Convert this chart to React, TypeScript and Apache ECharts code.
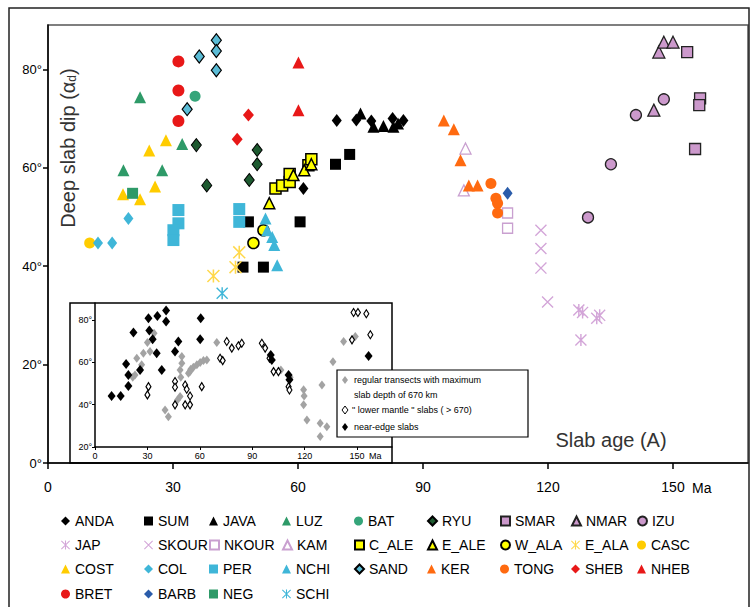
import React, { useEffect, useRef } from "react";
import * as echarts from "echarts";

const FONT = "'Liberation Sans', Arial, sans-serif";

// ---- main chart data: [slab age (Ma), deep slab dip (deg)] ----
const ANDA = [[69.3, 69.6], [74, 69.7], [77.6, 69.5], [82.7, 70], [85.3, 69.6], [61.3, 55.8]];
const SUM = [[72.4, 62.7], [69, 60.7], [60.5, 49], [48.1, 49], [46.8, 39.8], [51.7, 39.8]];
const JAVA = [[75, 71], [78.1, 68.3], [80.5, 68.5], [82.9, 68.3], [84, 69]];
const LUZ = [[22.1, 74.3], [32.2, 64.8], [18.1, 59.5], [27.4, 59.5]];
const BAT = [[35.3, 74.5]];
const RYU = [[35.6, 64.6], [38.1, 56.4], [50.2, 63.6], [50.2, 60.7], [48.3, 57.5]];
const SMAR = [[153.4, 83.5], [156.5, 74.1], [156.3, 72.7], [155.3, 63.8]];
const NMAR = [[145.4, 71.7], [146.6, 83.5], [147.8, 85.5], [150, 85.5]];
const IZU = [[129.6, 49.9], [135.1, 60.7], [141.1, 70.7], [147.8, 73.9]];
const JAP = [[127.4, 31.1], [128.3, 30.6], [131.7, 29.4], [132.4, 30], [127.9, 25]];
const SKOUR = [[118.3, 47.3], [118.3, 43.6], [118.3, 39.6], [119.9, 32.7]];
const NKOUR = [[110.3, 50.8], [110.3, 47.7]];
const KAM = [[100.2, 63.9], [99.8, 55.4]];
const C_ALE = [[54.6, 55.8], [56.2, 56.4], [58, 57.1], [58, 58.7], [62.5, 60.5], [63.2, 61.7]];
const E_ALE = [[53.1, 52.8], [58.9, 58.5], [61.5, 59.5], [63.2, 60.7]];
const W_ALA = [[49.3, 44.7], [51.7, 47.3]];
const E_ALA = [[45.9, 42.8], [45, 39.8], [39.7, 38]];
const CASC = [[10, 44.7]];
const COST = [[28.3, 65.6], [24.3, 63.5], [25.7, 56.2], [18, 54.6], [22.1, 53.6]];
const COL = [[19.3, 49.7], [12, 44.7], [15.4, 44.7]];
const PER = [[31.3, 51.4], [31.3, 48.7], [30.1, 47.3], [30.1, 45.3], [45.9, 51.6], [45.9, 49]];
const NCHI = [[52.2, 49.7], [52.6, 47.3], [53.8, 45.9], [54.3, 44.3], [55, 40.2]];
const SAND = [[40.4, 85.9], [40.4, 83.7], [36.3, 82.6], [40.4, 79.8], [33.4, 71.9]];
const KER = [[95, 69.6], [97.4, 67.8], [99, 61.5], [101, 56.4], [103.1, 56.4]];
const TONG = [[106.3, 56.8], [107.5, 53.8], [107.9, 52.8], [107.9, 50.8]];
const SHEB = [[45.4, 65.8], [48.1, 70.7]];
const NHEB = [[60.1, 81.4], [60.1, 71.7]];
const BRET = [[31.3, 81.6], [31.3, 75.7], [31.3, 69.5]];
const BARB = [[110.3, 54.8]];
const NEG = [[20.3, 54.8]];
const SCHI = [[41.8, 34.5]];

// ---- inset data ----
const INSET_REGULAR = [
  [23.9, 61.9], [27.7, 64.3], [26.7, 58.8], [30, 69.3], [31.5, 65.1], [33.8, 73.7], [22.9, 54], [21.6, 52.9],
  [40.1, 37.5], [42, 34.3], [49.7, 62.7], [49.7, 59.6], [48.7, 56.4], [49.1, 52.9], [53.5, 54.8], [54.8, 56.7],
  [56.3, 57.7], [58.3, 58.8], [60.2, 59.9], [62.1, 60.8], [64, 61.1], [48.7, 43.8], [47.2, 42.2], [69.7, 69.3],
  [106.4, 56.4], [111.7, 52.9], [119.4, 47], [119.7, 44.1], [119.4, 39.9], [121.3, 32.8], [128.9, 31.2],
  [132.7, 29.6], [128.9, 24.9], [129.9, 49.3], [136.2, 60.3], [142.3, 69.8], [149, 72.2], [54.4, 55.6],
];
const INSET_LOWER = [
  [30.6, 48.5], [30, 44.6], [45.8, 50.9], [45.8, 48.2], [51.6, 49.3], [52.5, 47.3], [54.4, 44.1], [45.8, 39.9],
  [51.6, 39.9], [54.4, 39.9], [61.1, 48.5], [71.6, 61.9], [73.1, 60.8], [75.4, 69.8], [78.3, 66.7], [82.1, 67.8],
  [84, 69], [95.5, 69], [97.4, 66.7], [99.9, 61.9], [102.2, 55.6], [105, 55.6], [110.8, 48.5], [111.3, 46.9],
  [148, 83.5], [150.5, 83.5], [155.3, 82.9], [147.1, 70.6], [157.6, 73],
];
const INSET_EDGE = [
  [9.5, 44.1], [14.7, 44.1], [19.1, 48.8], [19.1, 54], [17.8, 59.2], [22, 74.1], [25.8, 56.4], [30.6, 80.8],
  [31.1, 75], [33, 70.9], [35.3, 64.3], [35.7, 81.9], [38.2, 56.4], [40.7, 84.5], [40.7, 79.3], [47.7, 69.8],
  [45.8, 65.1], [60.5, 80.8], [60.2, 70.9], [100.6, 63.5], [101.2, 61.1], [110.8, 54], [111.3, 51.7], [156.6, 63],
];

const X_TICKS = [0, 30, 60, 90, 120, 150];
const Y_TICKS = [0, 20, 40, 60, 80];
const INSET_Y_TICKS = [20, 40, 60, 80];

const CROSS = "path://M0,0.8L0.8,0L10,9.2L9.2,10ZM9.2,0L10,0.8L0.8,10L0,9.2Z";
const STAR = CROSS + "M4.4,0L5.6,0L5.6,10L4.4,10Z";

const LILAC = "#cc99cc";
const CYAN = "#3fb6d8";
const GREEN = "#2e9a68";
const RED = "#e81818";
const ORANGE = "#ff6a10";
const YEL = "#ffcc00";

type Def = { name: string; data: number[][]; symbol: string; size: any; color: string; border?: string; bw?: number };

const DEFS: Def[] = [
  { name: "ANDA", data: ANDA, symbol: "diamond", size: [10, 13], color: "#000" },
  { name: "SUM", data: SUM, symbol: "rect", size: 11, color: "#000" },
  { name: "JAVA", data: JAVA, symbol: "triangle", size: 12, color: "#000" },
  { name: "LUZ", data: LUZ, symbol: "triangle", size: 12, color: GREEN },
  { name: "BAT", data: BAT, symbol: "circle", size: 11, color: "#35a57a" },
  { name: "RYU", data: RYU, symbol: "diamond", size: [10, 13], color: "#1d5a30", border: "#000", bw: 1 },
  { name: "SMAR", data: SMAR, symbol: "rect", size: 11, color: LILAC, border: "#222", bw: 1.3 },
  { name: "NMAR", data: NMAR, symbol: "triangle", size: 12, color: LILAC, border: "#222", bw: 1.3 },
  { name: "IZU", data: IZU, symbol: "circle", size: 11, color: LILAC, border: "#222", bw: 1.3 },
  { name: "JAP", data: JAP, symbol: STAR, size: 12, color: "#d3a5d8" },
  { name: "SKOUR", data: SKOUR, symbol: CROSS, size: 12, color: "#d3a5d8" },
  { name: "NKOUR", data: NKOUR, symbol: "rect", size: 10, color: "#fff", border: "#c9a0d0", bw: 1.3 },
  { name: "KAM", data: KAM, symbol: "triangle", size: 11, color: "#fff", border: "#c9a0d0", bw: 1.3 },
  { name: "C_ALE", data: C_ALE, symbol: "rect", size: 11, color: "#ffff00", border: "#000", bw: 1.5 },
  { name: "E_ALE", data: E_ALE, symbol: "triangle", size: 11, color: "#ffff00", border: "#000", bw: 1.5 },
  { name: "W_ALA", data: W_ALA, symbol: "circle", size: 11, color: "#ffff00", border: "#000", bw: 1.5 },
  { name: "E_ALA", data: E_ALA, symbol: STAR, size: 13, color: "#ffd84a" },
  { name: "CASC", data: CASC, symbol: "circle", size: 11, color: YEL },
  { name: "COST", data: COST, symbol: "triangle", size: 12, color: YEL },
  { name: "COL", data: COL, symbol: "diamond", size: [10, 13], color: CYAN },
  { name: "PER", data: PER, symbol: "rect", size: 12, color: CYAN },
  { name: "NCHI", data: NCHI, symbol: "triangle", size: 12, color: CYAN },
  { name: "SAND", data: SAND, symbol: "diamond", size: [10, 13], color: "#5bbcd6", border: "#000", bw: 1.2 },
  { name: "KER", data: KER, symbol: "triangle", size: 12, color: ORANGE },
  { name: "TONG", data: TONG, symbol: "circle", size: 11, color: ORANGE },
  { name: "SHEB", data: SHEB, symbol: "diamond", size: [11, 13], color: RED },
  { name: "NHEB", data: NHEB, symbol: "triangle", size: 12, color: RED },
  { name: "BRET", data: BRET, symbol: "circle", size: 12, color: RED },
  { name: "BARB", data: BARB, symbol: "diamond", size: [10, 13], color: "#2a5caa" },
  { name: "NEG", data: NEG, symbol: "rect", size: 11, color: GREEN },
  { name: "SCHI", data: SCHI, symbol: STAR, size: 12, color: CYAN },
];

const COL_X = [61, 144, 209, 282, 354, 427, 500, 571, 637];
const ROW_Y = [522, 546, 570, 595];

export default function App() {
  const ref = useRef<HTMLDivElement>(null);
  useEffect(() => {
    if (!ref.current) return;
    const chart = echarts.init(ref.current, null, { renderer: "svg" });

    const mainSeries = DEFS.map((d) => ({
      type: "scatter",
      name: d.name,
      xAxisIndex: 0,
      yAxisIndex: 0,
      data: d.data,
      symbol: d.symbol,
      symbolSize: d.size,
      z: 3,
      itemStyle: {
        color: d.color,
        opacity: 1,
        borderColor: d.border || d.color,
        borderWidth: d.border ? d.bw : 0,
      },
    }));

    const insetSeries = [
      { name: "regular", data: INSET_REGULAR, color: "#a3a3a3", border: "#a3a3a3", bw: 0, size: [7, 9] },
      { name: "lower", data: INSET_LOWER, color: "#fff", border: "#000", bw: 1.2, size: [5, 8] },
      { name: "edge", data: INSET_EDGE, color: "#000", border: "#000", bw: 0, size: [8, 10] },
    ].map((s) => ({
      type: "scatter",
      name: s.name,
      xAxisIndex: 1,
      yAxisIndex: 1,
      data: s.data,
      symbol: "diamond",
      symbolSize: s.size,
      z: 5,
      itemStyle: { color: s.color, borderColor: s.border, borderWidth: s.bw, opacity: 1 },
    }));

    const legends = DEFS.map((d, i) => ({
      data: [d.name],
      left: COL_X[i % 9],
      top: ROW_Y[Math.floor(i / 9)] - 8,
      padding: 0,
      itemWidth: 9,
      itemHeight: 9,
      selectedMode: false,
      textStyle: { fontSize: 14, color: "#000", fontFamily: FONT },
    }));

    const diamond = (cx: number, cy: number, fill: string, stroke: string) => ({
      type: "polygon",
      z: 21,
      shape: { points: [[cx, cy - 4], [cx + 3, cy], [cx, cy + 4], [cx - 3, cy]] },
      style: { fill, stroke, lineWidth: stroke === "none" ? 0 : 1 },
    });

    const option: any = {
      animation: false,
      backgroundColor: "#fff",
      textStyle: { fontFamily: FONT },
      grid: [
        { left: 48, top: 25, right: 2, bottom: 144, show: true, borderColor: "#555", borderWidth: 1.5, containLabel: false },
        { left: 95, top: 303, right: 358, bottom: 160, show: false, containLabel: false },
      ],
      xAxis: [
        {
          type: "value", gridIndex: 0, min: 0, max: 168, interval: 30,
          splitLine: { show: false },
          axisLine: { onZero: false, lineStyle: { color: "#000", width: 1.5 } },
          axisTick: { length: 6, customValues: X_TICKS, lineStyle: { color: "#000", width: 1.5 } },
          axisLabel: {
            customValues: X_TICKS, fontSize: 14, color: "#000", margin: 17, fontFamily: FONT,
            formatter: (v: number) => (v % 30 === 0 ? String(v) : ""),
          },
        },
        {
          type: "value", gridIndex: 1, min: 0, max: 170, interval: 30,
          splitLine: { show: false },
          axisLine: { onZero: false, lineStyle: { color: "#000", width: 1.5 } },
          axisTick: { length: 3, customValues: X_TICKS, lineStyle: { color: "#000", width: 1 } },
          axisLabel: {
            customValues: X_TICKS, fontSize: 9, color: "#000", margin: 4, fontFamily: FONT,
            formatter: (v: number) => (v % 30 === 0 ? String(v) : ""),
          },
        },
      ],
      yAxis: [
        {
          type: "value", gridIndex: 0, min: 0, max: 89, interval: 20,
          splitLine: { show: false },
          axisLine: { onZero: false, lineStyle: { color: "#000", width: 1.5 } },
          axisTick: { length: 5, customValues: Y_TICKS, lineStyle: { color: "#000", width: 1.5 } },
          axisLabel: {
            customValues: Y_TICKS, fontSize: 13, color: "#000", margin: 6, fontFamily: FONT,
            formatter: (v: number) => (v % 20 === 0 ? v + "°" : ""),
          },
        },
        {
          type: "value", gridIndex: 1, min: 20, max: 88, interval: 20,
          splitLine: { show: false },
          axisLine: { onZero: false, lineStyle: { color: "#000", width: 1.5 } },
          axisTick: { length: 3, customValues: INSET_Y_TICKS, lineStyle: { color: "#000", width: 1 } },
          axisLabel: {
            customValues: INSET_Y_TICKS, fontSize: 9, color: "#000", margin: 3, fontFamily: FONT,
            formatter: (v: number) => (v % 20 === 0 ? v + "°" : ""),
          },
        },
      ],
      legend: legends,
      series: [...mainSeries, ...insetSeries],
      graphic: {
        elements: [
          { type: "rect", z: 0, shape: { x: 9, y: 8, width: 740, height: 620 }, style: { fill: "none", stroke: "#222", lineWidth: 1.5 } },
          { type: "rect", z: 1, shape: { x: 70, y: 303, width: 322, height: 160 }, style: { fill: "none", stroke: "#000", lineWidth: 1.5 } },
          {
            type: "text", x: 68, y: 148, rotation: Math.PI / 2, z: 3,
            style: {
              text: "Deep slab dip (α{s|d})",
              fontSize: 20, fill: "#333", fontFamily: FONT, align: "center", verticalAlign: "middle",
              rich: { s: { fontSize: 12, fill: "#333", verticalAlign: "bottom", fontFamily: FONT } },
            },
          },
          {
            type: "text", x: 611, y: 440, z: 3,
            style: { text: "Slab age (A)", fontSize: 20, fill: "#333", fontFamily: FONT, align: "center", verticalAlign: "middle" },
          },
          { type: "text", x: 692, y: 488, z: 3, style: { text: "Ma", fontSize: 14, fill: "#000", fontFamily: FONT, align: "left", verticalAlign: "middle" } },
          { type: "text", x: 369, y: 456, z: 3, style: { text: "Ma", fontSize: 9, fill: "#000", fontFamily: FONT, align: "left", verticalAlign: "middle" } },
          { type: "rect", z: 20, shape: { x: 337, y: 370, width: 191, height: 67 }, style: { fill: "#fff", stroke: "#000", lineWidth: 1.2 } },
          diamond(345, 380, "#a3a3a3", "none"),
          diamond(345, 410, "#fff", "#000"),
          diamond(345, 427, "#000", "none"),
          { type: "text", x: 354, y: 380, z: 21, style: { text: "regular transects with maximum", fontSize: 9, fill: "#000", fontFamily: FONT, verticalAlign: "middle" } },
          { type: "text", x: 354, y: 395, z: 21, style: { text: "slab depth of 670 km", fontSize: 9, fill: "#000", fontFamily: FONT, verticalAlign: "middle" } },
          { type: "text", x: 352, y: 410, z: 21, style: { text: "\" lower mantle \" slabs ( > 670)", fontSize: 9, fill: "#000", fontFamily: FONT, verticalAlign: "middle" } },
          { type: "text", x: 354, y: 427, z: 21, style: { text: "near-edge slabs", fontSize: 9, fill: "#000", fontFamily: FONT, verticalAlign: "middle" } },
        ],
      },
    };

    chart.setOption(option);
    return () => chart.dispose();
  }, []);

  return <div ref={ref} style={{ position: "fixed", left: 0, top: 0, width: 750, height: 607 }} />;
}
